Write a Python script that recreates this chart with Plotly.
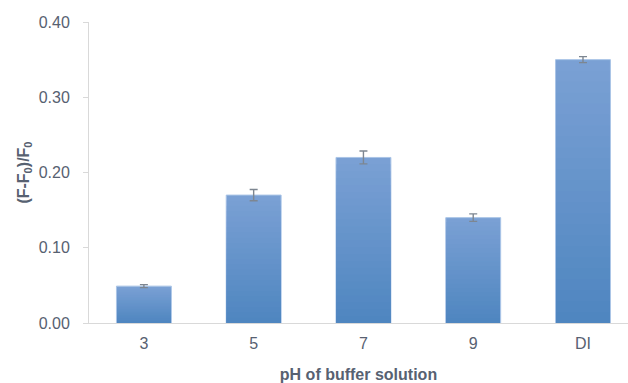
import plotly.graph_objects as go

# pH conditions and measured fluorescence response
categories = ["3", "5", "7", "9", "DI"]
response = [0.049, 0.170, 0.220, 0.140, 0.350]
response_err = [0.002, 0.0075, 0.0085, 0.005, 0.004]

y_ticks = [0.0, 0.1, 0.2, 0.3, 0.4]
y_tick_labels = ["0.00", "0.10", "0.20", "0.30", "0.40"]

text_color = "#576171"
axis_color = "#d9d9d9"
font_family = "Liberation Sans, Arial, sans-serif"

# Vertical gradient for the bars: light at the top, darker at the base
top_rgb = (122, 160, 212)
bottom_rgb = (79, 134, 192)
n_bands = 24


def mix(t):
    r, g, b = (round(top_rgb[i] + (bottom_rgb[i] - top_rgb[i]) * t) for i in range(3))
    return f"rgb({r},{g},{b})"


fig = go.Figure()

# full-height bar with a thin light outline
fig.add_trace(go.Bar(
    x=categories, y=response,
    marker=dict(color=mix(0.0), line=dict(color="#a9c4e6", width=1)),
    width=0.5, hoverinfo="x+y",
))

# progressively shorter, darker overlays build up the gradient
for k in range(1, n_bands):
    frac = (n_bands - k) / n_bands
    fig.add_trace(go.Bar(
        x=categories, y=[v * frac for v in response],
        marker=dict(color=mix(k / (n_bands - 1)), line=dict(width=0)),
        width=0.5 - 0.012, hoverinfo="skip",
    ))

# error bars drawn on top of everything
fig.add_trace(go.Scatter(
    x=categories, y=response, mode="markers",
    marker=dict(size=1, opacity=0),
    error_y=dict(type="data", array=response_err, visible=True,
                 color="#7d8691", thickness=1.4, width=4),
    hoverinfo="skip",
))

fig.update_layout(
    barmode="overlay",
    showlegend=False,
    width=628, height=383,
    margin=dict(l=89, r=0, t=22, b=60),
    paper_bgcolor="white", plot_bgcolor="white",
    font=dict(family=font_family, size=16, color=text_color),
    xaxis=dict(
        type="category",
        range=[-0.5, 4.41],
        showline=True, linecolor=axis_color, linewidth=1,
        ticks="", showgrid=False, zeroline=False,
        tickfont=dict(size=16, color=text_color),
        ticklabelstandoff=6,
        title=dict(text="<b>pH of buffer solution</b>",
                   font=dict(size=16, color=text_color), standoff=17),
    ),
    yaxis=dict(
        range=[0, 0.4],
        tickvals=y_ticks, ticktext=y_tick_labels,
        showline=True, linecolor=axis_color, linewidth=1,
        ticks="outside", ticklen=5, tickcolor=axis_color,
        showgrid=False, zeroline=False,
        tickfont=dict(size=16, color=text_color),
        ticklabelstandoff=10,
        title=dict(text="<b>(F-F<sub>0</sub>)/F<sub>0</sub></b>",
                   font=dict(size=16, color=text_color), standoff=5),
    ),
)

fig.write_html("out.html")
